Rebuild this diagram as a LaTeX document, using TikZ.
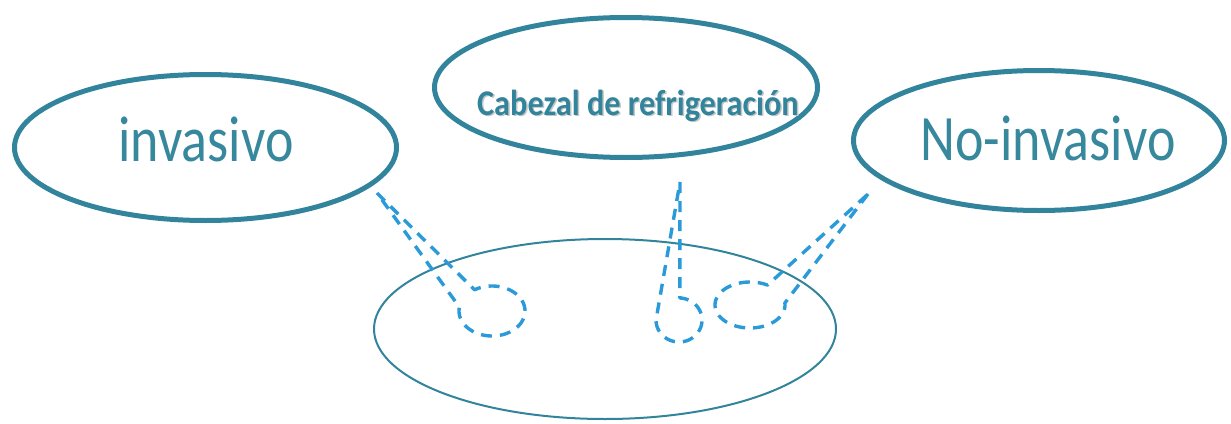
\documentclass[tikz,border=0pt]{standalone}
\usepackage{fontspec}
\setmainfont{Carlito}
\usetikzlibrary{shapes.geometric}
\definecolor{teal1}{HTML}{31849B}
\definecolor{tealtext}{HTML}{37889D}
\definecolor{dashblue}{HTML}{2A9AD8}
\tikzset{
  bigoval/.style={draw=teal1, line width=5pt, ellipse, inner sep=0pt},
  baseoval/.style={draw=teal1, line width=2pt, ellipse, inner sep=0pt},
  bigtext/.style={text=tealtext, anchor=base, inner sep=0pt, font=\fontsize{54}{60}\selectfont},
  boldtext/.style={text=teal1, anchor=base, inner sep=0pt, font=\fontsize{32.3}{36}\selectfont\bfseries},
  callout/.style={draw=dashblue, line width=3.4pt, dash pattern=on 11pt off 8pt, line join=round}
}
\begin{document}
\begin{tikzpicture}[x=1pt,y=-1pt]
\useasboundingbox (0,0) rectangle (1231,423);
% ovals
\node[bigoval, minimum width=382pt, minimum height=146pt] (inv) at (205.5,147.5) {};
\node[bigoval, minimum width=383pt, minimum height=140pt] (cab) at (626,87.5) {};
\node[bigoval, minimum width=371pt, minimum height=140pt] (noinv) at (1039,140.5) {};
\node[baseoval, minimum width=462pt, minimum height=180pt] (base) at (605,329) {};
% texts
\node[bigtext] (tinv) at (206,161) {\scalebox{1}[1.2]{invasivo}};
\node[bigtext] (tnoinv) at (1048,160) {\scalebox{1}[1.2]{No-invasivo}};
\node[boldtext, text=gray!45] at (639.5,116.5) {\scalebox{1}[1.12]{Cabezal de refrigeración}};
\node[boldtext] (tcab) at (638,115) {\scalebox{1}[1.12]{Cabezal de refrigeración}};
% callouts
\draw[callout] (377,193) -- plot[domain=238:549, samples=90] ({492+33*cos(\x)},{311+25*sin(\x)}) -- cycle;
\draw[callout] (680,182) -- plot[domain=272:540, samples=90] ({679+23*cos(\x)},{320+22*sin(\x)}) -- cycle;
\draw[callout] (868,194) -- plot[domain=-5:300, samples=90] ({750+35*cos(\x)},{305+23*sin(\x)}) -- cycle;
\end{tikzpicture}
\end{document}
